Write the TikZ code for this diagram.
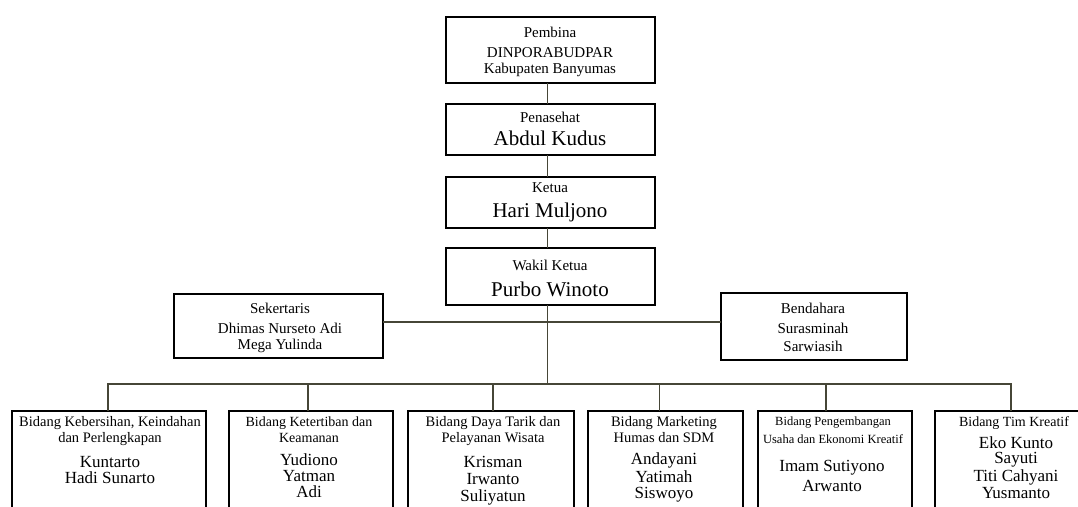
\documentclass[tikz,border=0pt]{standalone}
\usepackage{fontspec}
\setmainfont{Liberation Serif}
\usetikzlibrary{calc}
\definecolor{linegray}{RGB}{70,70,55}
\tikzset{
  box/.style={draw=black, line width=2.8pt, inner sep=0pt, outer sep=0pt, anchor=north west},
  conn/.style={draw=linegray, line width=1.4pt},
  tsmall/.style={inner sep=0pt, font=\fontsize{15}{17}\selectfont},
  tbig/.style={inner sep=0pt, font=\fontsize{21}{24}\selectfont},
  ttitle/.style={inner sep=0pt, font=\fontsize{14.5}{16}\selectfont},
  ttitlemd/.style={inner sep=0pt, font=\fontsize{14}{16}\selectfont},
  ttitlesm/.style={inner sep=0pt, font=\fontsize{12.5}{14}\selectfont},
  tname/.style={inner sep=0pt, font=\fontsize{17}{19}\selectfont},
}
\begin{document}
\begin{tikzpicture}[x=1pt,y=-1pt]
\useasboundingbox (0,0) rectangle (1078,506);
\clip (0,0) rectangle (1078,506);
\fill[white] (0,0) rectangle (1078,506);
% top chain
\node[box, minimum width=209pt, minimum height=66pt] (pembina) at (446,17) {};
\node[box, minimum width=209pt, minimum height=51pt] (penasehat) at (446,104) {};
\node[box, minimum width=209pt, minimum height=51pt] (ketua) at (446,177) {};
\node[box, minimum width=209pt, minimum height=57pt] (wakil) at (446,248) {};
\node[box, minimum width=209pt, minimum height=64pt] (sek) at (174,294) {};
\node[box, minimum width=186pt, minimum height=67pt] (bend) at (721,293) {};
% bottom boxes
\node[box, minimum width=194pt, minimum height=140pt] (b1) at (12,411) {};
\node[box, minimum width=164pt, minimum height=140pt] (b2) at (229,411) {};
\node[box, minimum width=166pt, minimum height=140pt] (b3) at (408,411) {};
\node[box, minimum width=155pt, minimum height=140pt] (b4) at (588,411) {};
\node[box, minimum width=154pt, minimum height=140pt] (b5) at (758,411) {};
\node[box, minimum width=170pt, minimum height=140pt] (b6) at (935,411) {};
% connectors
\coordinate (busy) at (0,384);
\coordinate (wk) at ([xshift=-3pt]wakil.south);
\draw[conn] ([xshift=-3pt]pembina.south) -- ([xshift=-3pt]penasehat.north);
\draw[conn] ([xshift=-3pt]penasehat.south) -- ([xshift=-3pt]ketua.north);
\draw[conn] ([xshift=-3pt]ketua.south) -- ([xshift=-3pt]wakil.north);
\draw[conn] (wk) -- (wk |- busy);
\coordinate (sk) at ([yshift=4pt]sek.east);
\draw[conn] (sk) -- (sk -| bend.west);
\coordinate (d1) at ([xshift=-1pt]b1.north);
\coordinate (d2) at ([xshift=-3pt]b2.north);
\coordinate (d3) at ([xshift=2pt]b3.north);
\coordinate (d4) at ([xshift=-6pt]b4.north);
\coordinate (d5) at ([xshift=-9pt]b5.north);
\coordinate (d6) at ([xshift=-9pt]b6.north);
\draw[conn] (d1) -- (d1 |- busy) -- (d6 |- busy) -- (d6);
\foreach \d in {d2,d3,d4,d5}{\draw[conn] (\d) -- (\d |- busy);}
% texts top
\node[tsmall] (t-pem1) at (550,32) {Pembina};
\node[tsmall] (t-pem2) at (550,53) {DINPORABUDPAR};
\node[tsmall] (t-pem3) at (550,70) {Kabupaten Banyumas};
\node[tsmall] (t-pen1) at (550,117) {Penasehat};
\node[tbig] (t-pen2) at (550,138) {Abdul Kudus};
\node[tsmall] (t-ket1) at (550,188) {Ketua};
\node[tbig] (t-ket2) at (550,212) {Hari Muljono};
\node[tsmall] (t-wak1) at (550,265) {Wakil Ketua};
\node[tbig] (t-wak2) at (550,289) {Purbo Winoto};
\node[tsmall] (t-sek1) at (280,308) {Sekertaris};
\node[tsmall] (t-sek2) at (280,328) {Dhimas Nurseto Adi};
\node[tsmall] (t-sek3) at (280,346) {Mega Yulinda};
\node[tsmall] (t-ben1) at (813,308) {Bendahara};
\node[tsmall] (t-ben2) at (813,328) {Surasminah};
\node[tsmall] (t-ben3) at (813,346) {Sarwiasih};
% texts bottom
\node[ttitle] (t-b1a) at (110,423) {Bidang Kebersihan, Keindahan};
\node[ttitle] (t-b1b) at (110,439) {dan Perlengkapan};
\node[tname] (t-b1c) at (110,462) {Kuntarto};
\node[tname] (t-b1d) at (110,478) {Hadi Sunarto};
\node[ttitlemd] (t-b2a) at (309,423) {Bidang Ketertiban dan};
\node[ttitlemd] (t-b2b) at (309,438) {Keamanan};
\node[tname] (t-b2c) at (309,460) {Yudiono};
\node[tname] (t-b2d) at (309,476) {Yatman};
\node[tname] (t-b2e) at (309,492) {Adi};
\node[ttitle] (t-b3a) at (493,423) {Bidang Daya Tarik dan};
\node[ttitle] (t-b3b) at (493,439) {Pelayanan Wisata};
\node[tname] (t-b3c) at (493,462) {Krisman};
\node[tname] (t-b3d) at (493,479) {Irwanto};
\node[tname] (t-b3e) at (493,497) {Suliyatun};
\node[ttitle] (t-b4a) at (664,423) {Bidang Marketing};
\node[ttitle] (t-b4b) at (664,438) {Humas dan SDM};
\node[tname] (t-b4c) at (664,460) {Andayani};
\node[tname] (t-b4d) at (664,477) {Yatimah};
\node[tname] (t-b4e) at (664,495) {Siswoyo};
\node[ttitlesm] (t-b5a) at (833,423) {Bidang Pengembangan};
\node[ttitlesm] (t-b5b) at (833,439) {Usaha dan Ekonomi Kreatif};
\node[tname] (t-b5c) at (832,468) {Imam Sutiyono};
\node[tname] (t-b5d) at (832,486) {Arwanto};
\node[ttitlemd] (t-b6a) at (1014,423) {Bidang Tim Kreatif};
\node[tname] (t-b6b) at (1016,443) {Eko Kunto};
\node[tname] (t-b6c) at (1016,460) {Sayuti};
\node[tname] (t-b6d) at (1016,477) {Titi Cahyani};
\node[tname] (t-b6e) at (1016,493) {Yusmanto};
\end{tikzpicture}
\end{document}
